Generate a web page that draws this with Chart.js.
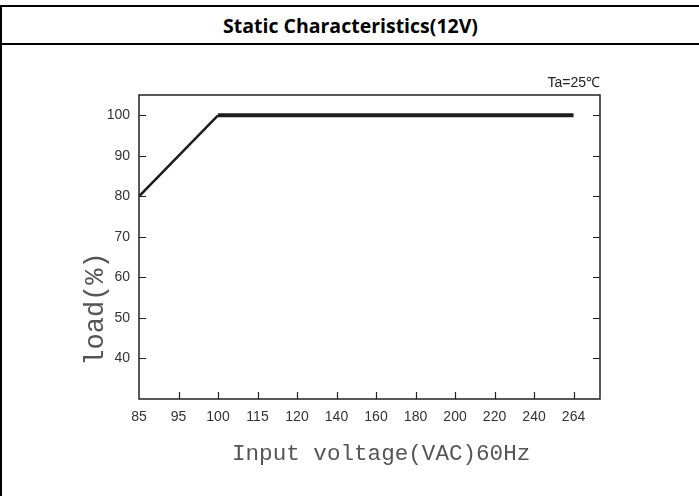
<!DOCTYPE html>
<html>
<head>
<meta charset="utf-8">
<script src="https://cdn.jsdelivr.net/npm/chart.js@4.4.1/dist/chart.umd.min.js"></script>
<style>
  body { margin: 0; background: #fff; }
  #wrap { position: relative; width: 699px; height: 496px; overflow: hidden; background: #fff; }
  #hdr {
    position: absolute; left: 0; top: 5px; width: 697px; height: 36px;
    border-top: 2px solid #000; border-bottom: 2px solid #000; border-left: 2px solid #000;
    display: flex; align-items: center; justify-content: center;
    font: bold 19.5px "Open Sans", Lato, sans-serif; color: #000;
  }
  #lside { position: absolute; left: 0; top: 45px; width: 2px; height: 451px; background: #000; }
  #c { position: absolute; left: 0; top: 0; }
</style>
</head>
<body>
<div id="wrap">
  <div id="hdr">Static Characteristics(12V)</div>
  <div id="lside"></div>
  <canvas id="c" width="699" height="496"></canvas>
</div>
<script>
// Static characteristics: load vs input voltage
const voltages = [85, 95, 100, 115, 120, 140, 160, 180, 200, 220, 240, 264];
const loadPct = [80, 90, 100, 100, 100, 100, 100, 100, 100, 100, 100, 100];
const loadTicks = [40, 50, 60, 70, 80, 90, 100];

const xTitle = 'Input voltage(VAC)60Hz';
const yTitle = 'load(%)';
const noteText = 'Ta=25\u2103';

const tickFont = { family: '"Liberation Sans", Arial, sans-serif', size: 14 };
const monoFont = '"Liberation Mono", "Courier New", monospace';

// box, inward ticks and titles
const framePlugin = {
  id: 'frame',
  afterDraw(chart) {
    const ctx = chart.ctx;
    const { left, right, top, bottom } = chart.chartArea;
    const xs = chart.scales.x, ys = chart.scales.y;
    ctx.save();
    ctx.strokeStyle = '#222';
    ctx.lineWidth = 1.5;
    ctx.strokeRect(left, top, right - left, bottom - top);

    ctx.lineWidth = 1.2;
    ctx.beginPath();
    loadTicks.forEach(v => {
      const y = Math.round(ys.getPixelForValue(v)) + 0.5;
      ctx.moveTo(left, y); ctx.lineTo(left + 7, y);
      ctx.moveTo(right - 7, y); ctx.lineTo(right, y);
    });
    voltages.forEach((v, i) => {
      if (i === 0) return;
      const x = Math.round(xs.getPixelForValue(i)) + 0.5;
      ctx.moveTo(x, bottom); ctx.lineTo(x, bottom - 7);
    });
    ctx.stroke();

    ctx.fillStyle = '#555';
    ctx.font = '22.6px ' + monoFont;
    ctx.textAlign = 'left';
    ctx.textBaseline = 'middle';
    ctx.fillText(xTitle, 232, 454);

    ctx.save();
    ctx.translate(96, 309);
    ctx.rotate(-Math.PI / 2);
    ctx.font = '27px ' + monoFont;
    ctx.textAlign = 'center';
    ctx.fillText(yTitle, 0, 0);
    ctx.restore();

    ctx.fillStyle = '#222';
    ctx.font = '14px ' + tickFont.family;
    ctx.textAlign = 'right';
    ctx.fillText(noteText, right, top - 12);
    ctx.restore();
  }
};

new Chart(document.getElementById('c'), {
  type: 'line',
  data: {
    datasets: [{
      data: voltages.map((v, i) => ({ x: i, y: loadPct[i] })),
      borderColor: '#1c1c1c',
      borderWidth: 3,
      pointRadius: 0,
      tension: 0,
      segment: {
        borderWidth: c => (c.p0.parsed.y === c.p1.parsed.y ? 4 : 2.5)
      }
    }]
  },
  options: {
    responsive: false,
    animation: false,
    layout: { padding: { left: 0, top: 95, right: 99, bottom: 57 } },
    plugins: { legend: { display: false }, tooltip: { enabled: false } },
    scales: {
      x: {
        type: 'linear',
        min: 0,
        max: voltages.length - 1 + 0.67,
        grid: { display: false, drawTicks: false },
        border: { display: false },
        afterBuildTicks: s => { s.ticks = voltages.map((v, i) => ({ value: i })); },
        afterFit: s => { s.height = 40; },
        ticks: {
          callback: v => voltages[v],
          autoSkip: false,
          maxRotation: 0,
          padding: 10,
          color: '#333',
          font: tickFont
        }
      },
      y: {
        min: 30,
        max: 105,
        grid: { display: false, drawTicks: false },
        border: { display: false },
        afterBuildTicks: s => { s.ticks = loadTicks.map(v => ({ value: v })); },
        afterFit: s => { s.width = 139; },
        ticks: {
          padding: 9,
          color: '#333',
          font: tickFont
        }
      }
    }
  },
  plugins: [framePlugin]
});
</script>
</body>
</html>
